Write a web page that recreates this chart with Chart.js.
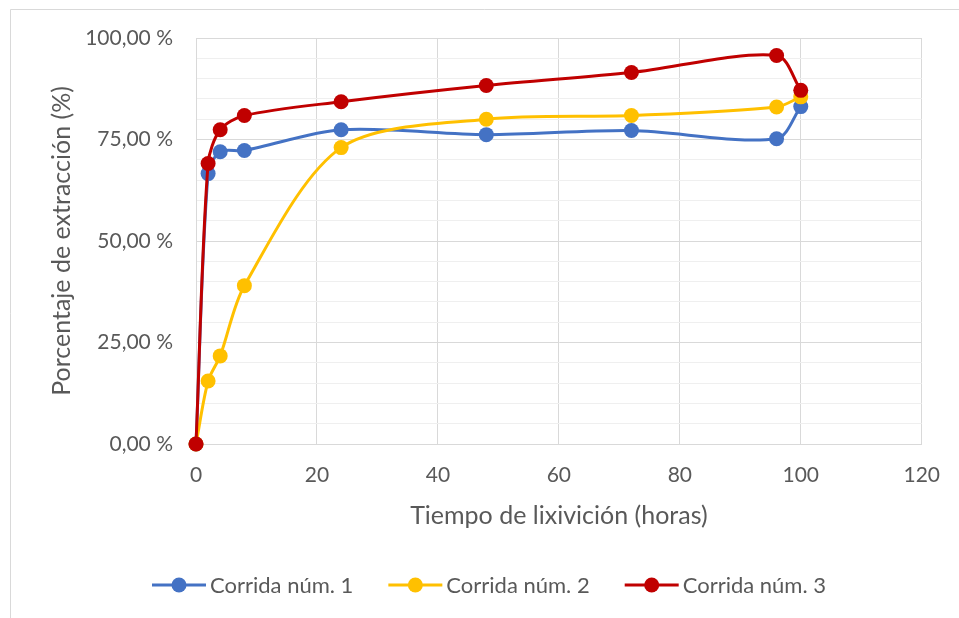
<!DOCTYPE html>
<html>
<head>
<meta charset="utf-8">
<script src="https://cdn.jsdelivr.net/npm/chart.js@4.4.0/dist/chart.umd.min.js"></script>
<style>
  html, body { margin: 0; padding: 0; background: #fff; }
  #wrap { width: 959px; height: 618px; position: relative; }
</style>
</head>
<body>
<div id="wrap"><canvas id="c" width="959" height="618"></canvas></div>
<script>
const hours = [0, 2, 4, 8, 24, 48, 72, 96, 100];
const run1 = [0, 66.6, 72.0, 72.3, 77.4, 76.2, 77.2, 75.2, 83.1];
const run2 = [0, 15.5, 21.7, 39.0, 73.0, 80.0, 80.9, 83.0, 85.5];
const run3 = [0, 69.1, 77.4, 80.9, 84.3, 88.3, 91.5, 95.7, 87.1];
const seriesNames = ['Corrida núm. 1', 'Corrida núm. 2', 'Corrida núm. 3'];
const seriesColors = ['#4472C4', '#FFC000', '#C00000'];
const xTitle = 'Tiempo de lixivición (horas)';
const yTitle = 'Porcentaje de extracción (%)';

const FONT = 'Lato, "Open Sans", sans-serif';
const TXT = '#595959';

function pts(ys) { return hours.map((h, i) => ({ x: h, y: ys[i] })); }

const allSeries = [run1, run2, run3];
const datasets = allSeries.map((s, i) => ({
  label: seriesNames[i],
  data: pts(s),
  borderColor: seriesColors[i],
  backgroundColor: seriesColors[i],
  borderWidth: 3,
  pointRadius: 7.5,
  pointHoverRadius: 7.5,
  pointBorderWidth: 0,
  showLine: true,
  tension: 0.3,
  order: 3 - i,
  clip: false,
  fill: false
}));

const frame = {
  id: 'frame',
  beforeDraw(chart) {
    const ctx = chart.ctx;
    ctx.save();
    ctx.fillStyle = '#fff';
    ctx.fillRect(0, 0, chart.width, chart.height);
    ctx.strokeStyle = '#D9D9D9';
    ctx.lineWidth = 1;
    ctx.beginPath();
    ctx.moveTo(10.5, chart.height);
    ctx.lineTo(10.5, 9.5);
    ctx.lineTo(chart.width, 9.5);
    ctx.stroke();
    ctx.restore();
  }
};

const legendPlugin = {
  id: 'customLegend',
  afterDraw(chart) {
    const ctx = chart.ctx;
    ctx.save();
    ctx.font = '22px ' + FONT;
    ctx.textBaseline = 'middle';
    let x = 152;
    const y = 585;
    chart.data.datasets.forEach(ds => {
      ctx.strokeStyle = ds.borderColor;
      ctx.lineWidth = 3;
      ctx.beginPath();
      ctx.moveTo(x, y);
      ctx.lineTo(x + 54, y);
      ctx.stroke();
      ctx.fillStyle = ds.borderColor;
      ctx.beginPath();
      ctx.arc(x + 27, y, 7.5, 0, Math.PI * 2);
      ctx.fill();
      ctx.fillStyle = TXT;
      ctx.fillText(ds.label, x + 58, y + 1);
      x += 58 + ctx.measureText(ds.label).width + 35;
    });
    ctx.restore();
  }
};

new Chart(document.getElementById('c'), {
  type: 'scatter',
  data: { datasets },
  options: {
    responsive: false,
    animation: false,
    devicePixelRatio: 1,
    layout: { padding: { left: 0, top: 38, right: 37, bottom: 0 } },
    plugins: {
      legend: { display: false },
      tooltip: { enabled: false }
    },
    elements: { line: { capBezierPoints: false } },
    scales: {
      x: {
        type: 'linear',
        min: 0, max: 120,
        ticks: { stepSize: 20, color: TXT, font: { family: FONT, size: 21 }, padding: 19 },
        grid: { color: '#D9D9D9', lineWidth: 1, drawTicks: false },
        border: { color: '#D9D9D9' },
        title: { display: true, text: xTitle, color: TXT, font: { family: FONT, size: 25 }, padding: { top: 0, bottom: 87 } },
        afterFit(s) { s.height = 174; }
      },
      y: {
        type: 'linear',
        min: 0, max: 100,
        ticks: {
          stepSize: 5, autoSkip: false, color: TXT, font: { family: FONT, size: 21 }, padding: 23,
          callback(v) { return v % 25 === 0 ? v.toFixed(2).replace('.', ',') + ' %' : ''; }
        },
        grid: {
          color: ctx => (ctx.tick && ctx.tick.value % 25 === 0) ? '#D9D9D9' : '#EFEFEF',
          lineWidth: 1, drawTicks: false
        },
        border: { color: '#D9D9D9' },
        title: { display: true, text: yTitle, color: TXT, font: { family: FONT, size: 25 }, padding: { top: 47, bottom: 0 } },
        afterFit(s) { s.width = 196; }
      }
    }
  },
  plugins: [frame, legendPlugin]
});
</script>
</body>
</html>
